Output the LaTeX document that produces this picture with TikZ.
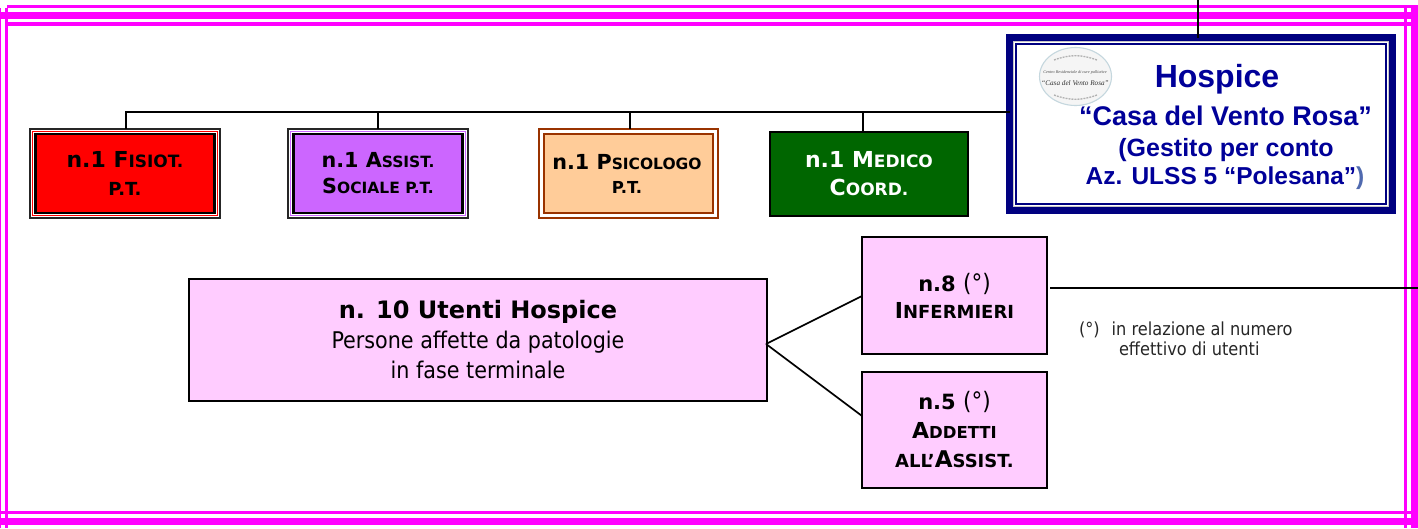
\documentclass[tikz,border=0pt]{standalone}
\usepackage{fontspec}
\usetikzlibrary{shapes.geometric}
\setmainfont{DejaVu Sans Condensed}[BoldFont={DejaVu Sans Bold}]
\newfontfamily\arialf{Liberation Sans}
\newfontfamily\logof{Liberation Serif}
\definecolor{mag}{HTML}{FF00FF}
\definecolor{navyb}{HTML}{000080}
\definecolor{navyt}{HTML}{000099}
\definecolor{pinkb}{HTML}{FFCCFF}
\definecolor{brownb}{HTML}{993300}
\definecolor{peach}{HTML}{FFCC99}
\definecolor{viol}{HTML}{CC66FF}
\definecolor{dgreen}{HTML}{006600}
\newcommand\fs[2]{\fontsize{#1}{#2}\selectfont}
\newcommand\tb[5]{\makebox[0pt][c]{\hspace*{#1pt}\raisebox{#2pt}{\parbox{500pt}{\centering\lineskiplimit=-100pt\fontsize{#3}{#4}\selectfont #5\par}}}}
\newcommand\sz[2]{{\fontsize{#1}{10}\selectfont #2}}
\tikzset{
 x=1pt,y=-1pt,
 every node/.style={inner sep=0pt,outer sep=0pt},
 frameline/.style={fill=mag,draw=none},
 conn/.style={draw=black,line width=2pt},
 pinkbox/.style={draw=black,line width=1.9pt,fill=pinkb,font=\bfseries},
 outerblack/.style={draw=black!85,line width=2pt,fill=white},
 innerblack/.style={draw=black,line width=2.6pt,font=\bfseries},
 outerbrown/.style={draw=brownb,line width=2pt,fill=white},
 innerbrown/.style={draw=brownb,line width=2.6pt,fill=peach,font=\bfseries},
 hosp/.style={draw=navyb,line width=7pt,fill=white},
 htext/.style={text=navyt,anchor=base},
}
\begin{document}
\begin{tikzpicture}
\useasboundingbox (0,0) rectangle (1418,528);
% frame
\fill[frameline] (7,5) rectangle (1418,8);
\fill[frameline] (0,12) rectangle (1418,19);
\fill[frameline] (7,22) rectangle (1418,26);
\fill[frameline] (0,511) rectangle (1418,514);
\fill[frameline] (0,518) rectangle (1418,525);
\fill[frameline] (0,8) rectangle (1.3,528);
\fill[frameline] (5,8) rectangle (8,528);
\fill[frameline] (1404,8) rectangle (1407,528);
\fill[frameline] (1411,8) rectangle (1418,528);
% hospice
\node[hosp,minimum width=383pt,minimum height=173pt] (hospice) at (1201,124) {};
\draw[gray!45,line width=1.2pt] (1013.8,41.8) rectangle (1388.2,206.2);
\draw[navyb,line width=1.7pt] (1016,44) rectangle (1386,204);
\node[draw=cyan!30!gray!40,line width=1.1pt,fill=black!4,ellipse,minimum width=72pt,minimum height=58pt] (logo) at (1075.5,76.5) {};
\node[font=\logof\itshape,text=black!70] (logoa) at (1075,72) {\fs{4.2}{6}Centro Residenziale di cure palliative};
\node[font=\logof\itshape,text=black!80] (logob) at (1075,83.5) {\fs{7.2}{9}“Casa del Vento Rosa”};
\draw[black!30,line width=1.3pt,dash pattern=on 2pt off 1pt] (1054,60) to[bend left=20] (1097,60);
\draw[black!30,line width=1.3pt,dash pattern=on 2pt off 1pt] (1054,95) to[bend right=20] (1097,95);
\node[htext,font=\arialf\bfseries\fs{32}{36}] (h1) at (1217,87) {Hospice};
\node[htext,font=\arialf\bfseries\fs{27}{30}] (h2) at (1225.5,125) {“Casa del Vento Rosa”};
\node[htext,font=\arialf\bfseries\fs{25}{28}] (h3) at (1226,156) {(Gestito per conto};
\node[htext,font=\arialf\bfseries\fs{24.5}{28}] (h4) at (1225,184) {Az. ULSS 5 “Polesana”\textcolor{blue!30!gray!90!cyan}{)}};
% boxes
\node[outerblack,minimum width=190pt,minimum height=89pt] (fisio) at (125,173.5) {};
\draw[red,line width=.6pt] (32.5,131.5) rectangle (217.5,215.5);
\node[innerblack,fill=red,minimum width=179pt,minimum height=79pt] (fisioin) at (125,173.5)
 {\tb{0}{-1}{22}{28}{n.1 F\sz{17}{ISIOT.}\\\sz{18}{P.T.}}};
\node[outerblack,minimum width=180pt,minimum height=89pt] (assist) at (378,173.5) {};
\draw[viol,line width=.6pt] (290.5,131.5) rectangle (465.5,215.5);
\node[innerblack,fill=viol,minimum width=169pt,minimum height=79pt] (assistin) at (378,173.5)
 {\tb{0}{-1}{20.7}{26}{n.1 A\sz{15.5}{SSIST.}\\S\sz{15.5}{OCIALE P.T.}}};
\node[outerbrown,minimum width=179pt,minimum height=89pt] (psico) at (628.5,173.5) {};
\node[innerbrown,minimum width=169pt,minimum height=79pt] (psicoin) at (628.5,173.5)
 {\tb{-3}{7}{20.7}{24}{n.1 P\sz{15.5}{SICOLOGO}\\\sz{16.5}{P.T.}}};
\node[draw=black,line width=1.9pt,fill=dgreen,text=white,font=\bfseries,minimum width=198pt,minimum height=84pt] (medico) at (869,174)
 {\tb{0}{1}{22}{28}{n.1 M\sz{17}{EDICO}\\C\sz{17}{OORD.}}};
\node[pinkbox,minimum width=578pt,minimum height=122pt] (utenti) at (478,340)
 {\tb{0}{-3}{24}{30}{n. 10 Utenti Hospice\\{\mdseries\fs{23}{30}Persone affette da patologie\\in fase terminale}}};
\node[pinkbox,minimum width=185pt,minimum height=117pt] (inf) at (954.5,295.5)
 {\tb{0}{12}{21}{27}{n.8 {\mdseries\fs{24}{27}(°)}\\\sz{22}{I}\sz{18}{NFERMIERI}}};
\node[pinkbox,minimum width=185pt,minimum height=116pt] (add) at (954.5,430)
 {\tb{0}{1}{21}{29}{n.5 {\mdseries\fs{24}{29}(°)}\\\sz{22}{A}\sz{16.5}{DDETTI}\\\sz{18}{ALL'}\sz{23}{A}\sz{18}{SSIST.}}};
% note
\node[anchor=base west,font=\fs{18}{20},text=black!85] (note1) at (1079,335) {(°)\hspace{12pt}in relazione al numero};
\node[anchor=base west,font=\fs{18}{20},text=black!85] (note2) at (1119,355) {effettivo di utenti};
% connectors
\coordinate (busL) at (125.5,111.5);
\coordinate (d4) at (863,111.5);
\coordinate (d3) at (630,111.5);
\coordinate (topfree) at (1198,0);
\coordinate (infR) at (1050,288);
\coordinate (rightfree) at (1418,288);
\coordinate (ut) at (766,344);
\draw[conn] (busL -| hospice.west) -- (busL) -- (busL |- fisio.north);
\draw[conn] (assist.north |- busL) -- (assist.north);
\draw[conn] (d3) -- (d3 |- psico.north);
\draw[conn] (d4) -- (d4 |- medico.north);
\draw[conn] (topfree) -- (topfree |- hospice.north);
\draw[conn] (infR) -- (rightfree);
\draw[conn,line width=1.7pt] (ut) -- (inf.west |- 0,296);
\draw[conn,line width=1.7pt] (ut) -- (add.west |- 0,416);
\end{tikzpicture}
\end{document}
